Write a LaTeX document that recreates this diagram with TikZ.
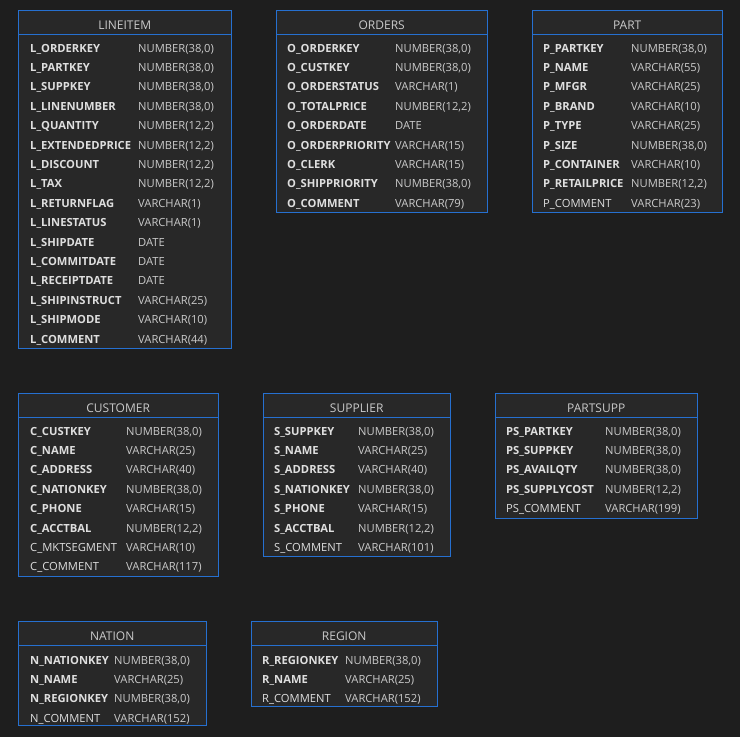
\documentclass[tikz,border=0pt]{standalone}
\usepackage{fontspec}
\setmainfont{Open Sans}
\usepackage{xcolor}
\usepackage{tikz}
\definecolor{erdbg}{HTML}{1E1E1E}
\definecolor{erdbox}{HTML}{282828}
\definecolor{erdblue}{HTML}{2670D0}
\definecolor{erdname}{HTML}{DEDEDE}
\definecolor{erdtype}{HTML}{CACACA}

\begin{document}
\begin{tikzpicture}[
    x=1pt, y=-1pt,
    tbl/.style={rectangle, draw=erdblue, fill=erdbox, line width=1pt, anchor=north west, inner sep=0pt},
    hdr/.style={rectangle, anchor=north west, inner sep=0pt, minimum height=24pt, text height=11pt, text depth=0pt, yshift=-1.5pt, font=\fontsize{12}{14}\selectfont, text=erdtype},
    sep/.style={draw=erdblue, line width=1pt},
    colname/.style={anchor=base west, inner sep=0pt, font=\fontsize{11.2}{13}\selectfont, text=erdname},
    coltype/.style={anchor=base west, inner sep=0pt, font=\fontsize{11.2}{13}\selectfont, text=erdtype}
]
    % Canvas
    \fill [erdbg] (0,0) rectangle (740,737);
    \useasboundingbox (0,0) rectangle (740,737);

    % Table LINEITEM
    \node (lineitem) [tbl, minimum width=213pt, minimum height=338pt] at (18,10) {};
    \node (lineitem-h) [hdr, minimum width=213pt] at (lineitem.north west) {LINEITEM};
    \draw [sep] ([yshift=-24pt]lineitem.north west) -- ([yshift=-24pt]lineitem.north east);
    \foreach \nm/\ty/\wt [count=\i, evaluate=\i as \y using 52+19.4*(\i-1)] in {
        L\_ORDERKEY/{NUMBER(38,0)}/\bfseries, L\_PARTKEY/{NUMBER(38,0)}/\bfseries,
        L\_SUPPKEY/{NUMBER(38,0)}/\bfseries, L\_LINENUMBER/{NUMBER(38,0)}/\bfseries,
        L\_QUANTITY/{NUMBER(12,2)}/\bfseries, L\_EXTENDEDPRICE/{NUMBER(12,2)}/\bfseries,
        L\_DISCOUNT/{NUMBER(12,2)}/\bfseries, L\_TAX/{NUMBER(12,2)}/\bfseries,
        L\_RETURNFLAG/VARCHAR(1)/\bfseries, L\_LINESTATUS/VARCHAR(1)/\bfseries,
        L\_SHIPDATE/DATE/\bfseries, L\_COMMITDATE/DATE/\bfseries,
        L\_RECEIPTDATE/DATE/\bfseries, L\_SHIPINSTRUCT/VARCHAR(25)/\bfseries,
        L\_SHIPMODE/VARCHAR(10)/\bfseries, L\_COMMENT/VARCHAR(44)/\bfseries} {
        \node (lineitem-n\i) [colname] at (30,\y) {\wt\nm};
        \node (lineitem-t\i) [coltype] at (138,\y) {\ty};
    }

    % Table ORDERS
    \node (orders) [tbl, minimum width=211pt, minimum height=202pt] at (276,10) {};
    \node (orders-h) [hdr, minimum width=211pt] at (orders.north west) {ORDERS};
    \draw [sep] ([yshift=-24pt]orders.north west) -- ([yshift=-24pt]orders.north east);
    \foreach \nm/\ty/\wt [count=\i, evaluate=\i as \y using 52+19.4*(\i-1)] in {
        O\_ORDERKEY/{NUMBER(38,0)}/\bfseries, O\_CUSTKEY/{NUMBER(38,0)}/\bfseries,
        O\_ORDERSTATUS/VARCHAR(1)/\bfseries, O\_TOTALPRICE/{NUMBER(12,2)}/\bfseries,
        O\_ORDERDATE/DATE/\bfseries, O\_ORDERPRIORITY/VARCHAR(15)/\bfseries,
        O\_CLERK/VARCHAR(15)/\bfseries, O\_SHIPPRIORITY/{NUMBER(38,0)}/\bfseries,
        O\_COMMENT/VARCHAR(79)/\bfseries} {
        \node (orders-n\i) [colname] at (287,\y) {\wt\nm};
        \node (orders-t\i) [coltype] at (395,\y) {\ty};
    }

    % Table PART
    \node (part) [tbl, minimum width=190pt, minimum height=202pt] at (532,10) {};
    \node (part-h) [hdr, minimum width=190pt] at (part.north west) {PART};
    \draw [sep] ([yshift=-24pt]part.north west) -- ([yshift=-24pt]part.north east);
    \foreach \nm/\ty/\wt [count=\i, evaluate=\i as \y using 52+19.4*(\i-1)] in {
        P\_PARTKEY/{NUMBER(38,0)}/\bfseries, P\_NAME/VARCHAR(55)/\bfseries,
        P\_MFGR/VARCHAR(25)/\bfseries, P\_BRAND/VARCHAR(10)/\bfseries,
        P\_TYPE/VARCHAR(25)/\bfseries, P\_SIZE/{NUMBER(38,0)}/\bfseries,
        P\_CONTAINER/VARCHAR(10)/\bfseries, P\_RETAILPRICE/{NUMBER(12,2)}/\bfseries,
        P\_COMMENT/VARCHAR(23)/\mdseries} {
        \node (part-n\i) [colname] at (543,\y) {\wt\nm};
        \node (part-t\i) [coltype] at (631,\y) {\ty};
    }

    % Table CUSTOMER
    \node (customer) [tbl, minimum width=200pt, minimum height=183pt] at (18,393) {};
    \node (customer-h) [hdr, minimum width=200pt] at (customer.north west) {CUSTOMER};
    \draw [sep] ([yshift=-24pt]customer.north west) -- ([yshift=-24pt]customer.north east);
    \foreach \nm/\ty/\wt [count=\i, evaluate=\i as \y using 435+19.4*(\i-1)] in {
        C\_CUSTKEY/{NUMBER(38,0)}/\bfseries, C\_NAME/VARCHAR(25)/\bfseries,
        C\_ADDRESS/VARCHAR(40)/\bfseries, C\_NATIONKEY/{NUMBER(38,0)}/\bfseries,
        C\_PHONE/VARCHAR(15)/\bfseries, C\_ACCTBAL/{NUMBER(12,2)}/\bfseries,
        C\_MKTSEGMENT/VARCHAR(10)/\mdseries, C\_COMMENT/VARCHAR(117)/\mdseries} {
        \node (customer-n\i) [colname] at (30,\y) {\wt\nm};
        \node (customer-t\i) [coltype] at (126,\y) {\ty};
    }

    % Table SUPPLIER
    \node (supplier) [tbl, minimum width=187pt, minimum height=163pt] at (263,393) {};
    \node (supplier-h) [hdr, minimum width=187pt] at (supplier.north west) {SUPPLIER};
    \draw [sep] ([yshift=-24pt]supplier.north west) -- ([yshift=-24pt]supplier.north east);
    \foreach \nm/\ty/\wt [count=\i, evaluate=\i as \y using 435+19.4*(\i-1)] in {
        S\_SUPPKEY/{NUMBER(38,0)}/\bfseries, S\_NAME/VARCHAR(25)/\bfseries,
        S\_ADDRESS/VARCHAR(40)/\bfseries, S\_NATIONKEY/{NUMBER(38,0)}/\bfseries,
        S\_PHONE/VARCHAR(15)/\bfseries, S\_ACCTBAL/{NUMBER(12,2)}/\bfseries,
        S\_COMMENT/VARCHAR(101)/\mdseries} {
        \node (supplier-n\i) [colname] at (274,\y) {\wt\nm};
        \node (supplier-t\i) [coltype] at (358,\y) {\ty};
    }

    % Table PARTSUPP
    \node (partsupp) [tbl, minimum width=202pt, minimum height=125pt] at (495,393) {};
    \node (partsupp-h) [hdr, minimum width=202pt] at (partsupp.north west) {PARTSUPP};
    \draw [sep] ([yshift=-24pt]partsupp.north west) -- ([yshift=-24pt]partsupp.north east);
    \foreach \nm/\ty/\wt [count=\i, evaluate=\i as \y using 435+19.4*(\i-1)] in {
        PS\_PARTKEY/{NUMBER(38,0)}/\bfseries, PS\_SUPPKEY/{NUMBER(38,0)}/\bfseries,
        PS\_AVAILQTY/{NUMBER(38,0)}/\bfseries, PS\_SUPPLYCOST/{NUMBER(12,2)}/\bfseries,
        PS\_COMMENT/VARCHAR(199)/\mdseries} {
        \node (partsupp-n\i) [colname] at (506,\y) {\wt\nm};
        \node (partsupp-t\i) [coltype] at (605,\y) {\ty};
    }

    % Table NATION
    \node (nation) [tbl, minimum width=188pt, minimum height=104pt] at (18,621) {};
    \node (nation-h) [hdr, minimum width=188pt] at (nation.north west) {NATION};
    \draw [sep] ([yshift=-24pt]nation.north west) -- ([yshift=-24pt]nation.north east);
    \foreach \nm/\ty/\wt [count=\i, evaluate=\i as \y using 664+19.4*(\i-1)] in {
        N\_NATIONKEY/{NUMBER(38,0)}/\bfseries, N\_NAME/VARCHAR(25)/\bfseries,
        N\_REGIONKEY/{NUMBER(38,0)}/\bfseries, N\_COMMENT/VARCHAR(152)/\mdseries} {
        \node (nation-n\i) [colname] at (30,\y) {\wt\nm};
        \node (nation-t\i) [coltype] at (114,\y) {\ty};
    }

    % Table REGION
    \node (region) [tbl, minimum width=186pt, minimum height=85pt] at (251,621) {};
    \node (region-h) [hdr, minimum width=186pt] at (region.north west) {REGION};
    \draw [sep] ([yshift=-24pt]region.north west) -- ([yshift=-24pt]region.north east);
    \foreach \nm/\ty/\wt [count=\i, evaluate=\i as \y using 664+19.4*(\i-1)] in {
        R\_REGIONKEY/{NUMBER(38,0)}/\bfseries, R\_NAME/VARCHAR(25)/\bfseries,
        R\_COMMENT/VARCHAR(152)/\mdseries} {
        \node (region-n\i) [colname] at (262,\y) {\wt\nm};
        \node (region-t\i) [coltype] at (345,\y) {\ty};
    }
\end{tikzpicture}
\end{document}
